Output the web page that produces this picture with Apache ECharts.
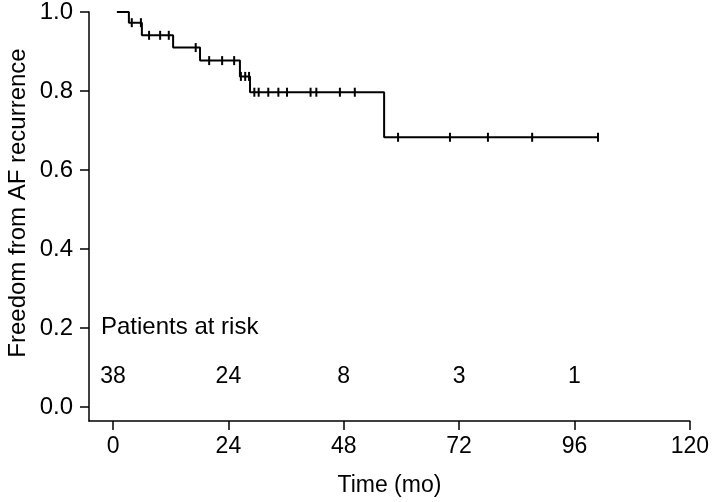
<!DOCTYPE html>
<html>
<head>
<meta charset="utf-8">
<script src="https://cdn.jsdelivr.net/npm/echarts@6/dist/echarts.min.js"></script>
<style>
html,body{margin:0;padding:0;background:#fff;}
#chart{width:712px;height:502px;}
</style>
</head>
<body>
<div id="chart"></div>
<script>
// ---- data ----
const timeTicks = [0, 24, 48, 72, 96, 120];
const survTicks = [0, 0.2, 0.4, 0.6, 0.8, 1.0];
const atRiskTimes = [0, 24, 48, 72, 96];
const atRiskCounts = [38, 24, 8, 3, 1];
// Kaplan-Meier step curve: time (months) and survival after each step
const stepTimes = [0.8, 3.3, 6.0, 12.5, 18.1, 26.4, 28.5, 56.4, 100.9];
const stepSurv  = [1.0, 0.973, 0.941, 0.910, 0.877, 0.837, 0.797, 0.683, 0.683];
// censored observations (months)
const censorTimes = [3.9, 5.8, 7.5, 9.8, 11.6, 17.2, 20.0, 22.7, 25.2, 26.6, 27.5, 28.3,
  29.4, 30.3, 32.3, 34.4, 36.2, 41.1, 42.3, 47.2, 50.3, 59.3, 70.1, 78.0, 87.2, 100.9];

// ---- layout constants ----
const FONT = "'Liberation Sans', Arial, Helvetica, sans-serif";
const INK = '#000';
const AT_RISK_ROW_Y = 0.076;

function survAt(t) {
  let s = stepSurv[0];
  for (let i = 0; i < stepTimes.length; i++) {
    if (stepTimes[i] <= t) s = stepSurv[i];
  }
  return s;
}

const curveData = stepTimes.map((t, i) => [t, stepSurv[i]]);
const censorData = censorTimes.map(t => [t, survAt(t)]);
const atRiskData = atRiskTimes.map((t, i) => [t, AT_RISK_ROW_Y, atRiskCounts[i]]);

const chart = echarts.init(document.getElementById('chart'), null, {renderer: 'canvas'});
chart.setOption({
  animation: false,
  backgroundColor: '#fff',
  grid: {left: 89, right: 22, top: 10, bottom: 81},
  xAxis: {
    type: 'value',
    min: -5, max: 120,
    splitLine: {show: false},
    axisLine: {show: true, onZero: false, lineStyle: {color: INK, width: 1.5}},
    axisTick: {show: true, length: 9, customValues: timeTicks, lineStyle: {color: INK, width: 1.5}},
    axisLabel: {customValues: timeTicks, fontSize: 23, fontFamily: FONT, color: INK, margin: 14},
    name: 'Time (mo)',
    nameLocation: 'middle',
    nameGap: 53,
    nameTextStyle: {fontSize: 23, fontFamily: FONT, color: INK}
  },
  yAxis: {
    type: 'value',
    min: -0.035, max: 1.0,
    splitLine: {show: false},
    axisLine: {show: true, onZero: false, lineStyle: {color: INK, width: 1.5}},
    axisTick: {show: true, length: 9, customValues: survTicks, lineStyle: {color: INK, width: 1.5}},
    axisLabel: {customValues: survTicks, fontSize: 24, fontFamily: FONT, color: INK, margin: 16,
      formatter: v => v.toFixed(1)}
  },
  graphic: [
    {type: 'text', x: 18, y: 203, rotation: Math.PI / 2,
     style: {text: 'Freedom from AF recurrence', font: '24px ' + FONT, fill: INK,
             textAlign: 'center', textVerticalAlign: 'middle'}},
    {type: 'text', x: 101, y: 327,
     style: {text: 'Patients at risk', font: '24px ' + FONT, fill: INK,
             textAlign: 'left', textVerticalAlign: 'middle'}}
  ],
  series: [
    {
      type: 'line', step: 'end', data: curveData, symbol: 'none',
      lineStyle: {color: INK, width: 2}, z: 3
    },
    {
      type: 'scatter', data: censorData, symbol: 'rect', symbolSize: [2, 9],
      itemStyle: {color: INK, opacity: 1}, z: 4
    },
    {
      type: 'scatter', data: atRiskData, symbolSize: 0,
      itemStyle: {color: INK, opacity: 1},
      label: {show: true, position: 'inside', formatter: p => String(p.value[2]),
              fontSize: 23, fontFamily: FONT, color: INK, opacity: 1}
    }
  ]
});
</script>
</body>
</html>
